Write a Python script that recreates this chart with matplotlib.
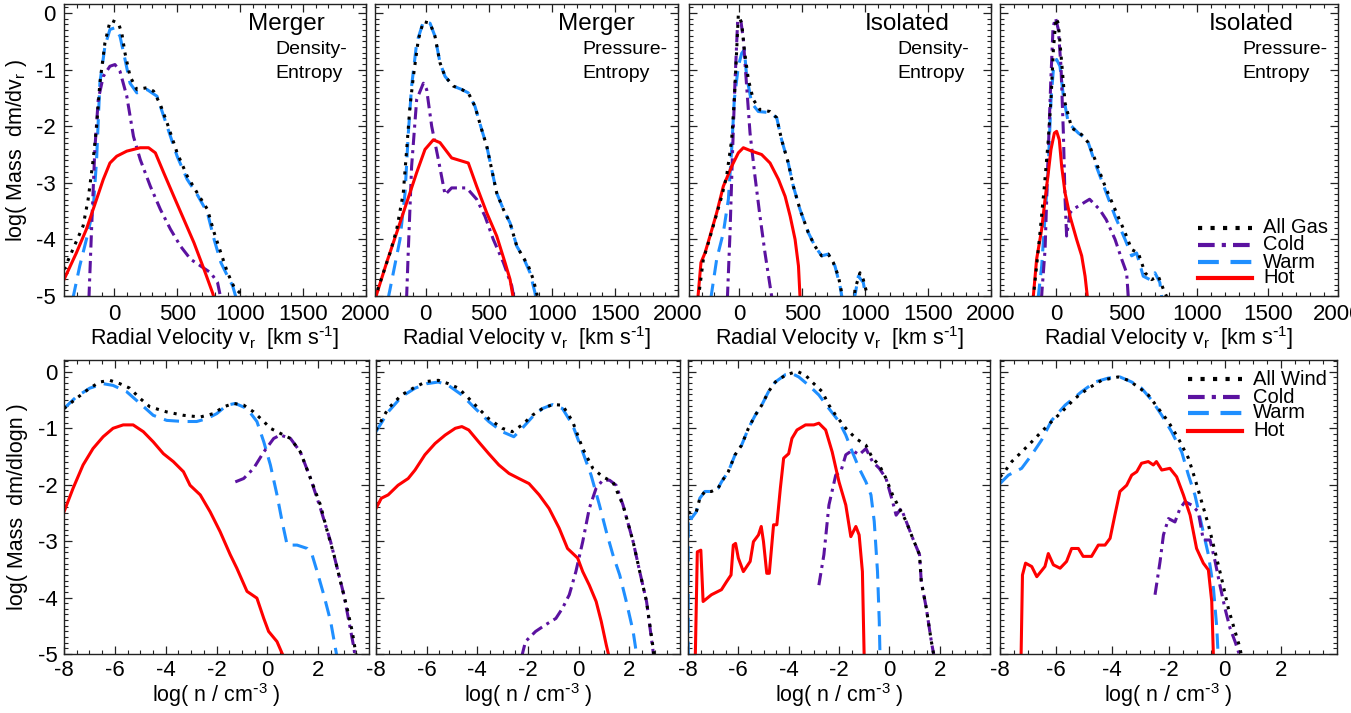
import numpy as np
import matplotlib
matplotlib.use('Agg')
import matplotlib.pyplot as plt
from matplotlib.ticker import MultipleLocator

plt.rcParams['font.family'] = ['Liberation Sans', 'DejaVu Sans']
plt.rcParams['mathtext.default'] = 'regular'
plt.rcParams['axes.unicode_minus'] = False

# ---- top row: radial velocity distributions (x, log dm/dv) ----
m_de_all = [(-400,-4.53),(-342,-4.24),(-248,-3.76),(-208,-3.29),(-168,-2.59),(-141,-2.0),(-115,-1.24),(-75,-0.53),(-35,-0.15),(-21,-0.13),(32,-0.18),(59,-0.35),(85,-0.71),(125,-1.12),(179,-1.35),(259,-1.32),(312,-1.38),(366,-1.62),(419,-1.94),(499,-2.47),(579,-2.88),(659,-3.18),(740,-3.47),(793,-3.88),(847,-4.24),(900,-4.59),(953,-4.85),(1000,-4.95),(1060,-5.05)]
m_de_cold = [(-202,-5.05),(-182,-3.88),(-155,-2.41),(-128,-1.53),(-88,-1.12),(-35,-0.94),(5,-0.91),(45,-1.03),(99,-1.47),(152,-2.18),(206,-2.59),(286,-3.06),(366,-3.47),(446,-3.82),(526,-4.12),(606,-4.35),(686,-4.47),(766,-4.59),(820,-4.76),(847,-5.05)]
m_de_warm = [(-330,-5.05),(-275,-4.47),(-222,-4.0),(-168,-3.47),(-141,-2.59),(-115,-1.24),(-75,-0.59),(-35,-0.29),(5,-0.26),(45,-0.41),(85,-0.82),(125,-1.24),(179,-1.41),(259,-1.35),(339,-1.47),(419,-2.0),(499,-2.53),(579,-2.94),(659,-3.21),(740,-3.53),(793,-4.0),(847,-4.41),(900,-4.65),(940,-4.82),(970,-5.05)]
m_de_hot = [(-400,-4.71),(-302,-4.24),(-222,-3.82),(-141,-3.29),(-88,-2.94),(-35,-2.65),(19,-2.53),(99,-2.44),(206,-2.38),(272,-2.38),(326,-2.47),(392,-2.82),(473,-3.24),(553,-3.65),(633,-4.06),(713,-4.53),(780,-4.94),(795,-5.05)]

m_pe_all = [(-400,-5.05),(-387,-4.94),(-334,-4.59),(-281,-4.24),(-228,-3.82),(-176,-3.18),(-149,-2.41),(-123,-1.65),(-96,-1.12),(-57,-0.47),(-17,-0.15),(36,-0.18),(75,-0.41),(115,-0.88),(155,-1.12),(220,-1.29),(286,-1.35),(339,-1.41),(392,-1.65),(445,-2.06),(485,-2.35),(524,-2.76),(564,-3.18),(617,-3.47),(670,-3.71),(723,-4.12),(775,-4.32),(815,-4.47),(854,-4.71),(880,-4.94),(890,-5.05)]
m_pe_cold = [(-150,-5.05),(-136,-4.18),(-110,-2.71),(-70,-1.53),(-17,-1.24),(9,-1.35),(49,-2.0),(102,-2.59),(155,-3.21),(207,-3.09),(326,-3.09),(405,-3.29),(471,-3.59),(537,-4.0),(617,-4.41),(683,-4.82),(701,-5.05)]
m_pe_warm = [(-296,-5.05),(-255,-4.59),(-202,-4.0),(-162,-3.18),(-136,-2.12),(-110,-1.29),(-70,-0.53),(-17,-0.15),(36,-0.18),(75,-0.41),(115,-0.88),(155,-1.12),(220,-1.29),(286,-1.35),(339,-1.41),(392,-1.65),(445,-2.06),(485,-2.35),(524,-2.76),(564,-3.18),(617,-3.47),(670,-3.71),(723,-4.12),(775,-4.32),(828,-4.59),(867,-4.94),(875,-5.05)]
m_pe_hot = [(-400,-5.1),(-387,-4.97),(-308,-4.41),(-228,-3.88),(-149,-3.35),(-70,-2.82),(-4,-2.41),(62,-2.24),(115,-2.29),(207,-2.56),(339,-2.65),(405,-3.06),(485,-3.53),(564,-3.94),(630,-4.41),(670,-4.71),(696,-5.05)]

i_de_all = [(-326,-5.05),(-286,-4.35),(-246,-4.06),(-193,-3.65),(-140,-3.24),(-101,-2.88),(-61,-2.24),(-40,-1.53),(-21,-0.65),(-8,-0.03),(19,-0.18),(40,-0.65),(72,-1.18),(111,-1.53),(164,-1.71),(244,-1.74),(297,-1.85),(336,-2.24),(389,-2.65),(429,-3.06),(482,-3.47),(548,-3.88),(601,-4.12),(654,-4.29),(707,-4.26),(747,-4.41),(787,-4.65),(813,-4.94),(825,-5.3),(905,-5.3),(919,-4.88),(959,-4.59),(985,-4.71),(1012,-4.94),(1020,-5.1)]
i_de_cold = [(-95,-5.05),(-74,-3.88),(-56,-2.59),(-35,-1.24),(-13,-0.12),(13,-0.15),(32,-0.47),(58,-1.29),(85,-2.12),(124,-2.88),(164,-3.59),(204,-4.24),(244,-4.82),(260,-5.05)]
i_de_warm = [(-227,-5.05),(-180,-4.35),(-127,-3.88),(-87,-3.29),(-61,-2.41),(-40,-1.53),(-8,-0.94),(19,-0.71),(40,-0.65),(58,-1.12),(98,-1.59),(151,-1.74),(244,-1.76),(297,-1.85),(336,-2.24),(389,-2.65),(429,-3.06),(482,-3.47),(548,-3.88),(601,-4.12),(654,-4.29),(707,-4.26),(760,-4.47),(800,-4.82),(818,-5.05),(830,-5.3),(900,-5.3),(914,-5.05),(946,-4.65),(985,-4.76),(1008,-5.05)]
i_de_hot = [(-330,-5.05),(-305,-4.41),(-273,-4.24),(-233,-3.94),(-180,-3.53),(-127,-3.06),(-61,-2.71),(-8,-2.47),(32,-2.38),(98,-2.44),(177,-2.5),(244,-2.65),(311,-2.94),(364,-3.24),(404,-3.59),(443,-4.0),(470,-4.47),(483,-5.05)]

i_pe_all = [(-165,-5.05),(-140,-4.47),(-116,-3.88),(-85,-3.06),(-57,-2.24),(-38,-1.53),(-21,-0.65),(-2,-0.09),(14,-0.18),(38,-0.88),(62,-1.59),(109,-2.03),(180,-2.15),(227,-2.29),(275,-2.59),(346,-3.06),(417,-3.47),(488,-3.88),(535,-4.18),(582,-4.24),(630,-4.59),(677,-4.71),(724,-4.65),(760,-4.88),(790,-5.05)]
i_pe_cold = [(-106,-5.05),(-80,-4.18),(-61,-2.71),(-40,-1.24),(-23,-0.24),(-5,-0.09),(14,-0.29),(33,-0.94),(50,-2.12),(62,-3.29),(73,-3.94),(97,-3.53),(118,-3.47),(236,-3.29),(307,-3.47),(354,-3.65),(417,-4.0),(464,-4.35),(499,-4.59),(512,-5.05)]
i_pe_warm = [(-130,-5.05),(-104,-4.47),(-80,-3.59),(-57,-2.71),(-38,-1.53),(-21,-1.0),(2,-0.82),(26,-0.94),(50,-1.47),(85,-1.94),(156,-2.12),(220,-2.24),(275,-2.65),(346,-3.12),(417,-3.59),(488,-4.0),(535,-4.29),(570,-4.24),(617,-4.65),(664,-4.71),(700,-4.59),(735,-4.76),(750,-5.05)]
i_pe_hot = [(-165,-5.05),(-140,-4.35),(-104,-3.82),(-80,-3.29),(-57,-2.82),(-38,-2.41),(-14,-2.12),(2,-2.09),(21,-2.24),(38,-2.71),(62,-3.18),(97,-3.59),(144,-4.0),(180,-4.29),(204,-4.65),(222,-5.05)]

# ---- bottom row: wind density distributions (log n, log dm/dlogn) ----
mw_de_all = [(-8,-0.65),(-7.51,-0.47),(-6.99,-0.29),(-6.59,-0.18),(-6.2,-0.15),(-5.8,-0.21),(-5.41,-0.29),(-5.01,-0.47),(-4.62,-0.62),(-3.96,-0.71),(-3.3,-0.77),(-2.64,-0.8),(-2.12,-0.74),(-1.72,-0.62),(-1.33,-0.56),(-0.93,-0.59),(-0.54,-0.71),(-0.14,-0.88),(0.12,-1.0),(0.51,-1.09),(0.91,-1.18),(1.3,-1.42),(1.7,-1.89),(2.09,-2.36),(2.36,-2.83),(2.62,-3.24),(2.88,-3.72),(3.14,-4.19),(3.34,-4.6),(3.47,-4.96),(3.5,-5.05)]
mw_de_cold = [(-1.26,-1.95),(-0.93,-1.89),(-0.54,-1.71),(-0.14,-1.42),(0.25,-1.18),(0.51,-1.12),(0.91,-1.18),(1.3,-1.42),(1.7,-1.89),(2.09,-2.42),(2.49,-3.01),(2.75,-3.48),(3.01,-3.95),(3.21,-4.42),(3.41,-4.9),(3.45,-5.05)]
mw_de_warm = [(-8,-0.65),(-7.51,-0.44),(-6.99,-0.29),(-6.46,-0.21),(-6.07,-0.24),(-5.54,-0.35),(-5.01,-0.56),(-4.49,-0.77),(-3.96,-0.86),(-3.3,-0.88),(-2.78,-0.88),(-2.38,-0.83),(-1.99,-0.74),(-1.59,-0.59),(-1.26,-0.56),(-0.8,-0.65),(-0.41,-0.88),(-0.14,-1.24),(0.12,-1.65),(0.38,-2.18),(0.58,-2.65),(0.78,-3.07),(1.17,-3.07),(1.57,-3.13),(1.76,-3.24),(1.96,-3.54),(2.22,-3.95),(2.49,-4.42),(2.68,-4.9),(2.74,-5.05)]
mw_de_hot = [(-8,-2.48),(-7.64,-2.06),(-7.25,-1.65),(-6.86,-1.36),(-6.46,-1.15),(-6.07,-1.0),(-5.67,-0.94),(-5.28,-0.94),(-4.88,-1.06),(-4.49,-1.24),(-4.09,-1.45),(-3.7,-1.59),(-3.3,-1.77),(-3.04,-2.01),(-2.64,-2.18),(-2.25,-2.48),(-1.86,-2.83),(-1.46,-3.24),(-1.2,-3.48),(-0.8,-3.89),(-0.41,-4.01),(-0.14,-4.37),(0.05,-4.6),(0.38,-4.78),(0.64,-5.05)]

mw_pe_all = [(-8,-1.03),(-7.52,-0.65),(-6.99,-0.41),(-6.46,-0.27),(-6.0,-0.17),(-5.54,-0.15),(-5.14,-0.21),(-4.74,-0.29),(-4.34,-0.47),(-3.95,-0.65),(-3.55,-0.83),(-3.02,-1.0),(-2.62,-1.06),(-2.23,-0.94),(-1.83,-0.77),(-1.43,-0.65),(-1.03,-0.58),(-0.64,-0.59),(-0.24,-0.88),(0.16,-1.36),(0.56,-1.71),(0.95,-1.86),(1.35,-1.95),(1.75,-2.36),(2.15,-3.01),(2.41,-3.54),(2.68,-4.07),(2.94,-4.9),(2.97,-5.05)]
mw_pe_cold = [(-2.25,-5.05),(-2.1,-4.78),(-1.7,-4.6),(-1.3,-4.48),(-0.9,-4.37),(-0.64,-4.19),(-0.37,-3.95),(-0.11,-3.54),(0.16,-3.01),(0.42,-2.42),(0.69,-2.06),(0.95,-1.92),(1.22,-1.92),(1.48,-2.01),(1.75,-2.36),(2.15,-3.01),(2.41,-3.54),(2.68,-4.07),(2.94,-4.96),(2.96,-5.05)]
mw_pe_warm = [(-8,-1.06),(-7.52,-0.71),(-6.99,-0.44),(-6.46,-0.29),(-6.0,-0.21),(-5.54,-0.18),(-5.14,-0.24),(-4.61,-0.41),(-4.08,-0.65),(-3.55,-0.88),(-3.02,-1.06),(-2.56,-1.15),(-2.23,-1.0),(-1.83,-0.8),(-1.43,-0.65),(-1.03,-0.58),(-0.64,-0.65),(-0.24,-0.94),(0.16,-1.42),(0.49,-1.83),(0.82,-2.36),(1.09,-2.83),(1.35,-3.24),(1.62,-3.6),(1.88,-4.07),(2.15,-4.6),(2.3,-5.05)]
mw_pe_hot = [(-8,-2.42),(-7.79,-2.24),(-7.52,-2.18),(-7.13,-2.01),(-6.73,-1.89),(-6.46,-1.74),(-6.07,-1.47),(-5.67,-1.27),(-5.27,-1.12),(-4.87,-1.0),(-4.61,-0.97),(-4.34,-1.03),(-3.95,-1.24),(-3.55,-1.45),(-3.15,-1.65),(-2.75,-1.8),(-2.36,-1.89),(-1.96,-1.98),(-1.56,-2.18),(-1.17,-2.42),(-0.77,-2.77),(-0.44,-3.13),(-0.04,-3.3),(0.16,-3.54),(0.42,-3.78),(0.69,-4.07),(0.89,-4.42),(1.09,-4.84),(1.2,-5.05)]

iw_de_all = [(-8,-2.48),(-7.87,-2.51),(-7.67,-2.48),(-7.53,-2.24),(-7.33,-2.12),(-7.07,-2.12),(-6.8,-2.06),(-6.67,-1.95),(-6.4,-1.77),(-6.13,-1.47),(-5.87,-1.3),(-5.6,-1.0),(-5.33,-0.77),(-5.07,-0.59),(-4.8,-0.35),(-4.53,-0.18),(-4.13,-0.06),(-3.67,0.01),(-3.33,-0.06),(-3.07,-0.18),(-2.67,-0.35),(-2.4,-0.59),(-2.13,-0.77),(-1.73,-1.0),(-1.33,-1.18),(-0.93,-1.3),(-0.67,-1.53),(-0.4,-1.65),(-0.13,-1.89),(0.13,-2.18),(0.4,-2.42),(0.67,-2.65),(0.93,-2.95),(1.2,-3.24),(1.27,-3.72),(1.47,-4.19),(1.67,-4.78),(1.78,-5.05)]
iw_de_cold = [(-2.8,-3.78),(-2.6,-3.24),(-2.4,-2.36),(-2.13,-1.83),(-1.93,-1.77),(-1.73,-1.47),(-1.47,-1.39),(-1.2,-1.47),(-0.93,-1.36),(-0.67,-1.59),(-0.4,-1.71),(-0.13,-1.89),(0.13,-2.3),(0.27,-2.54),(0.47,-2.42),(0.67,-2.65),(0.93,-2.95),(1.2,-3.24),(1.27,-3.72),(1.47,-4.19),(1.67,-4.78),(1.78,-5.05)]
iw_de_warm = [(-7.99,-5.05),(-7.99,-2.54),(-7.87,-2.6),(-7.67,-2.48),(-7.53,-2.24),(-7.33,-2.12),(-7.07,-2.12),(-6.8,-2.06),(-6.67,-1.95),(-6.4,-1.77),(-6.13,-1.47),(-5.87,-1.3),(-5.6,-1.0),(-5.33,-0.77),(-5.07,-0.59),(-4.8,-0.35),(-4.53,-0.18),(-4.13,-0.05),(-3.87,-0.03),(-3.6,-0.09),(-3.2,-0.24),(-2.8,-0.41),(-2.4,-0.65),(-2.0,-0.88),(-1.73,-1.12),(-1.47,-1.42),(-1.2,-1.71),(-0.93,-1.95),(-0.73,-2.18),(-0.6,-2.65),(-0.47,-3.54),(-0.4,-4.42),(-0.37,-5.05)]
iw_de_hot = [(-7.71,-5.05),(-7.63,-3.19),(-7.49,-3.16),(-7.4,-4.07),(-7.07,-3.95),(-6.67,-3.86),(-6.47,-3.72),(-6.29,-3.6),(-6.2,-3.07),(-6.11,-3.04),(-6.0,-3.3),(-5.8,-3.54),(-5.53,-3.36),(-5.4,-3.01),(-5.2,-2.89),(-5.09,-2.74),(-5.0,-3.01),(-4.87,-3.57),(-4.77,-3.57),(-4.6,-2.71),(-4.47,-2.71),(-4.33,-2.06),(-4.2,-1.53),(-4.0,-1.45),(-3.87,-1.18),(-3.67,-1.03),(-3.33,-0.94),(-3.0,-0.94),(-2.8,-0.91),(-2.53,-1.03),(-2.27,-1.42),(-2.0,-1.95),(-1.73,-2.36),(-1.53,-2.92),(-1.33,-2.74),(-1.2,-2.89),(-1.07,-3.54),(-1.0,-5.05)]

iw_pe_all = [(-8,-1.86),(-7.88,-1.8),(-7.58,-1.59),(-7.23,-1.42),(-6.87,-1.24),(-6.52,-1.06),(-6.16,-0.88),(-5.8,-0.71),(-5.33,-0.47),(-4.85,-0.29),(-4.38,-0.15),(-3.79,-0.09),(-3.43,-0.15),(-3.07,-0.27),(-2.72,-0.41),(-2.36,-0.65),(-2.01,-0.88),(-1.65,-1.18),(-1.29,-1.53),(-1.06,-1.89),(-0.82,-2.3),(-0.58,-2.71),(-0.34,-3.19),(-0.11,-3.66),(0.13,-4.19),(0.37,-4.6),(0.55,-4.9),(0.6,-5.05)]
iw_pe_cold = [(-2.48,-3.95),(-2.3,-3.36),(-2.18,-2.89),(-2.0,-2.6),(-1.77,-2.66),(-1.59,-2.42),(-1.41,-2.3),(-1.18,-2.36),(-0.94,-2.48),(-0.76,-2.98),(-0.52,-2.98),(-0.34,-3.36),(-0.17,-3.78),(0.01,-4.19),(0.19,-4.54),(0.37,-4.78),(0.55,-5.05)]
iw_pe_warm = [(-8,-1.98),(-7.7,-1.83),(-7.23,-1.71),(-6.87,-1.47),(-6.52,-1.21),(-6.16,-0.86),(-5.68,-0.59),(-5.09,-0.35),(-4.62,-0.18),(-4.14,-0.11),(-3.73,-0.09),(-3.31,-0.18),(-2.96,-0.29),(-2.6,-0.5),(-2.24,-0.77),(-1.89,-1.06),(-1.53,-1.42),(-1.29,-1.83),(-1.06,-2.18),(-0.82,-2.71),(-0.58,-3.24),(-0.4,-3.83),(-0.28,-4.54),(-0.23,-5.05)]
iw_pe_hot = [(-7.25,-5.05),(-7.2,-3.6),(-7.09,-3.39),(-6.87,-3.45),(-6.69,-3.63),(-6.4,-3.45),(-6.28,-3.22),(-6.1,-3.42),(-5.86,-3.48),(-5.63,-3.36),(-5.45,-3.13),(-5.21,-3.13),(-5.04,-3.27),(-4.74,-3.27),(-4.5,-3.07),(-4.26,-3.07),(-4.08,-2.95),(-3.91,-2.54),(-3.73,-2.12),(-3.49,-2.01),(-3.31,-1.83),(-3.13,-1.77),(-2.96,-1.62),(-2.72,-1.59),(-2.54,-1.65),(-2.43,-1.59),(-2.24,-1.74),(-1.95,-1.71),(-1.71,-1.86),(-1.47,-2.18),(-1.23,-2.54),(-1.0,-3.13),(-0.76,-3.39),(-0.58,-3.51),(-0.46,-4.07),(-0.4,-5.05)]

titles = ['Merger', 'Merger', 'Isolated', 'Isolated']
subtitles = ['Density-', 'Pressure-', 'Density-', 'Pressure-']
top_legend = ['All Gas', 'Cold', 'Warm', 'Hot']
bot_legend = ['All Wind', 'Cold', 'Warm', 'Hot']

top_data = [(m_de_all, m_de_cold, m_de_warm, m_de_hot),
            (m_pe_all, m_pe_cold, m_pe_warm, m_pe_hot),
            (i_de_all, i_de_cold, i_de_warm, i_de_hot),
            (i_pe_all, i_pe_cold, i_pe_warm, i_pe_hot)]
bot_data = [(mw_de_all, mw_de_cold, mw_de_warm, mw_de_hot),
            (mw_pe_all, mw_pe_cold, mw_pe_warm, mw_pe_hot),
            (iw_de_all, iw_de_cold, iw_de_warm, iw_de_hot),
            (iw_pe_all, iw_pe_cold, iw_pe_warm, iw_pe_hot)]

# styles: all, cold, warm, hot
colors = ['black', '#5b12a0', '#1f8fff', '#ff0000']
styles = [(0, (1, 2.0)), (0, (4, 1.7, 1, 1.7)), (0, (5, 2.8)), '-']
LW = 2.2

W, H = 1351, 713
fig = plt.figure(figsize=(W / 100, H / 100), dpi=100)

def px_axes(l, t, w, h):
    return fig.add_axes([l / W, 1 - (t + h) / H, w / W, h / H])

top_boxes = [(64, 4, 302, 292), (375, 4, 303, 292), (689, 4, 302, 292), (1000, 4, 338, 292)]
bot_boxes = [(64, 360, 305, 294), (376, 360, 304, 294), (688, 360, 302, 294), (1000, 360, 337, 294)]
title_x = [0.609, 0.604, 0.583, 0.618]
sub_x = [0.700, 0.686, 0.689, 0.716]


def style_axes(ax, first, pad):
    for s in ax.spines.values():
        s.set_linewidth(1.0)
        s.set_color('#222222')
    ax.tick_params(which='both', direction='in', top=True, right=True,
                   labelsize=16, color='#222222')
    ax.tick_params(which='major', length=6, width=0.9, pad=pad)
    ax.tick_params(which='minor', length=3, width=0.8)
    ax.yaxis.set_minor_locator(MultipleLocator(0.1))
    ax.set_yticks([0, -1, -2, -3, -4, -5])
    if not first:
        ax.set_yticklabels([])


def draw(ax, series):
    order = [2, 1, 3, 0]
    for k in order:
        pts = np.array(series[k])
        ax.plot(pts[:, 0], pts[:, 1], color=colors[k], linestyle=styles[k], lw=LW)


def legend(ax, names, x0, x1, xt, ys):
    for k in range(4):
        ax.plot([x0, x1], [ys[k], ys[k]], transform=ax.transAxes, color=colors[k],
                linestyle=styles[k], lw=3.0, clip_on=False)
        ax.text(xt, ys[k], names[k], transform=ax.transAxes, fontsize=14.5,
                ha='left', va='center')


for i in range(4):
    ax = px_axes(*top_boxes[i])
    draw(ax, top_data[i])
    ax.set_xlim(-400, 2000)
    ax.set_ylim(-5.0, 0.16)
    ax.set_xticks([0, 500, 1000, 1500, 2000])
    ax.xaxis.set_minor_locator(MultipleLocator(100))
    style_axes(ax, i == 0, 6)
    ax.set_xlabel(r'Radial Velocity $v_r$  [km $s^{\text{-}1}$]', fontsize=15.5, va='center')
    ax.xaxis.set_label_coords(0.5, -0.145)
    if i == 0:
        ax.set_ylabel(r'log( Mass  dm/d$v_r$ )', fontsize=15.5, va='center')
        ax.yaxis.set_label_coords(-0.156, 0.5)
    ax.text(title_x[i], 0.932, titles[i], transform=ax.transAxes, fontsize=17.5,
            ha='left', va='center')
    ax.text(sub_x[i], 0.843, subtitles[i], transform=ax.transAxes, fontsize=14,
            ha='left', va='center')
    ax.text(sub_x[i], 0.762, 'Entropy', transform=ax.transAxes, fontsize=14,
            ha='left', va='center')
    if i == 3:
        legend(ax, top_legend, 0.586, 0.746, 0.778, [0.233, 0.175, 0.116, 0.062])

for i in range(4):
    ax = px_axes(*bot_boxes[i])
    draw(ax, bot_data[i])
    ax.set_xlim(-8, 4)
    ax.set_ylim(-5.0, 0.21)
    ax.set_xticks([-8, -6, -4, -2, 0, 2])
    ax.xaxis.set_minor_locator(MultipleLocator(0.5))
    style_axes(ax, i == 0, 4.5)
    ax.set_xlabel(r'log( n / cm$^{\text{-}3}$ )', fontsize=15.5, va='center')
    ax.xaxis.set_label_coords(0.5, -0.138)
    if i == 0:
        ax.set_ylabel('log( Mass  dm/dlogn )', fontsize=15.5, va='center')
        ax.yaxis.set_label_coords(-0.154, 0.5)
    if i == 3:
        legend(ax, bot_legend, 0.558, 0.718, 0.751, [0.935, 0.874, 0.820, 0.759])

fig.savefig('out.png', dpi=100)
